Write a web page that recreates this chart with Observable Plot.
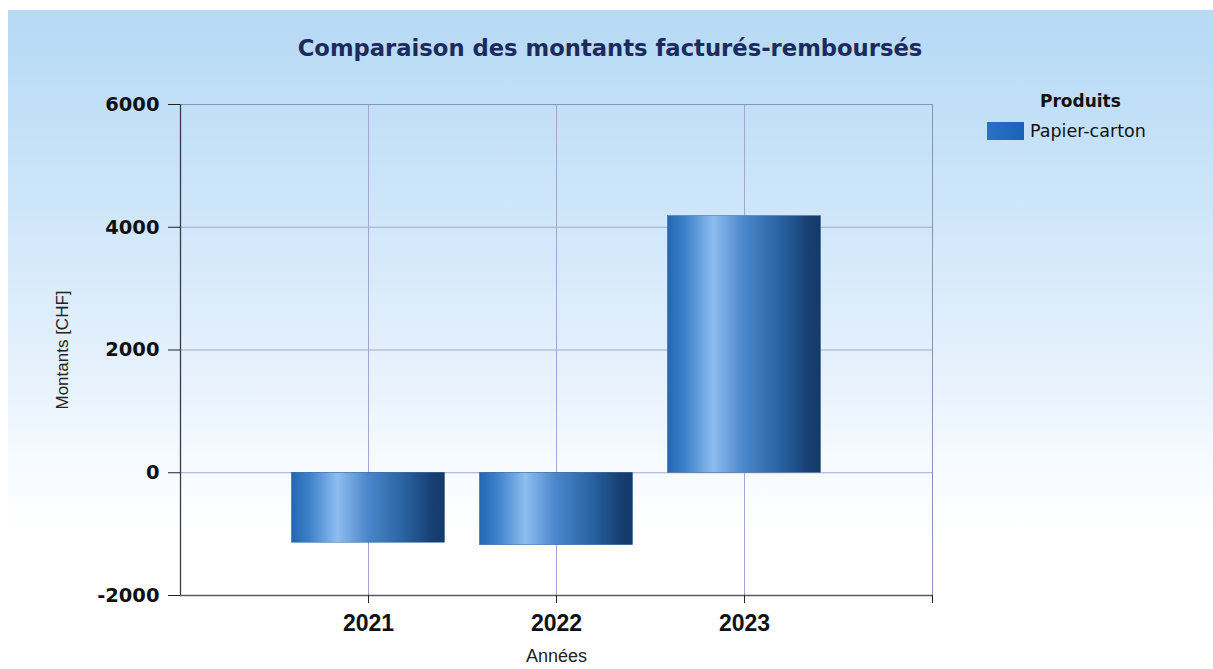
<!DOCTYPE html>
<html>
<head>
<meta charset="utf-8">
<script src="https://cdn.jsdelivr.net/npm/d3@7"></script>
<script src="https://cdn.jsdelivr.net/npm/@observablehq/plot@0.6"></script>
<style>
  html, body { margin: 0; padding: 0; background: #ffffff; }
  #wrap { position: relative; width: 1213px; height: 669px; overflow: hidden; background: #ffffff; }
  #bg { position: absolute; left: 8px; top: 10px; right: 0; bottom: 0;
        background: linear-gradient(to bottom, #b6d9f5 0%, #c1dff7 15%, #d3e8fa 35%, #e6f1fc 55%, #f5faff 68%, #ffffff 79%); }
  #title { position: absolute; left: 0; width: 1220px; top: 35px; text-align: center;
           font-family: "DejaVu Sans", sans-serif; font-weight: bold; font-size: 22.7px; color: #1a2b5c; }
  #chart { position: absolute; left: 0; top: 0; }
  #legend { position: absolute; left: 987px; top: 91px; font-family: "DejaVu Sans", sans-serif; color: #111; }
  #legend .lt { font-weight: bold; font-size: 17px; margin-left: 53px; }
  #legend .row { display: flex; align-items: center; margin-top: 10px; }
  #legend .sw { width: 37px; height: 18px; background: linear-gradient(to right, #2a72c8, #1a62b8); margin-right: 6px; }
  #legend .lab { font-size: 17.5px; }
</style>
</head>
<body>
<div id="wrap">
  <div id="bg"></div>
  <div id="title">Comparaison des montants facturés-remboursés</div>
  <div id="chart"></div>
  <div id="legend"></div>
</div>
<script>
// ---- data ----
const years = [2021, 2022, 2023];
const montants = [-1140, -1180, 4180];
const yTicks = [-2000, 0, 2000, 4000, 6000];
const xTicks = [2021, 2022, 2023, 2024];
const seriesName = "Papier-carton";
const legendTitle = "Produits";
const titleText = "Comparaison des montants facturés-remboursés";
const yLabel = "Montants [CHF]";
const xLabel = "Années";

const data = years.map((y, i) => ({annee: y, montant: montants[i], produit: seriesName}));

document.getElementById("title").textContent = titleText;
document.getElementById("legend").innerHTML =
  `<div class="lt">${legendTitle}</div><div class="row"><div class="sw"></div><div class="lab">${seriesName}</div></div>`;

const gridColor = "#a3a6d2";
const halfBar = 0.407;

const plot = Plot.plot({
  width: 1213,
  height: 669,
  marginTop: 104,
  marginBottom: 74,
  marginLeft: 180,
  marginRight: 281,
  style: {background: "transparent", fontFamily: "DejaVu Sans, sans-serif", overflow: "visible"},
  x: {type: "linear", domain: [2020, 2024]},
  y: {domain: [-2000, 6000]},
  marks: [
    Plot.gridY(yTicks, {stroke: gridColor, strokeOpacity: 1}),
    Plot.gridX([2021, 2022, 2023], {stroke: gridColor, strokeOpacity: 1}),
    Plot.ruleY([6000], {stroke: "#8794b4"}),
    Plot.ruleX([2024], {stroke: "#8794b4"}),
    Plot.rectY(data, {
      x1: d => d.annee - halfBar,
      x2: d => d.annee + halfBar,
      y1: 0,
      y2: "montant",
      fill: "url(#barGrad)",
      stroke: "#2a5a90",
      strokeWidth: 0.5
    }),
    Plot.ruleX([2020], {stroke: "#3a3a4a", strokeWidth: 1.3}),
    Plot.ruleY([-2000], {stroke: "#5a5a6a", strokeWidth: 1.3}),
    Plot.axisY(yTicks, {
      anchor: "left", tickSize: 12, tickPadding: 9, fontSize: 19.5, fontWeight: "bold",
      stroke: "#222", fill: "#111", label: null, tickFormat: d => String(d)
    }),
    Plot.axisX(xTicks, {
      anchor: "bottom", tickSize: 8, tickPadding: 11, fontSize: 23, fontWeight: "bold",
      fontFamily: "Liberation Sans, sans-serif",
      stroke: "#222", fill: "#111", label: null,
      tickFormat: d => d === 2024 ? "" : String(d)
    }),
    Plot.text([yLabel], {frameAnchor: "left", dx: -118, rotate: -90, fontSize: 17, textAnchor: "middle",
      fontFamily: "Liberation Sans, sans-serif", fill: "#222"}),
    Plot.text([xLabel], {frameAnchor: "bottom", dy: 66, fontSize: 18, textAnchor: "middle",
      fontFamily: "Liberation Sans, sans-serif", fill: "#222"})
  ]
});

// gradient definition for the bars
const ns = "http://www.w3.org/2000/svg";
const defs = document.createElementNS(ns, "defs");
const lg = document.createElementNS(ns, "linearGradient");
lg.setAttribute("id", "barGrad");
lg.setAttribute("x1", "0"); lg.setAttribute("x2", "1");
lg.setAttribute("y1", "0"); lg.setAttribute("y2", "0");
[["0%", "#2367b0"], ["12%", "#3f82cc"], ["30%", "#8ebdf0"], ["50%", "#4a86cb"], ["75%", "#27609e"], ["92%", "#173f72"], ["100%", "#143a68"]]
  .forEach(([o, c]) => {
    const s = document.createElementNS(ns, "stop");
    s.setAttribute("offset", o); s.setAttribute("stop-color", c);
    lg.appendChild(s);
  });
defs.appendChild(lg);
plot.insertBefore(defs, plot.firstChild);
document.getElementById("chart").appendChild(plot);
</script>
</body>
</html>
